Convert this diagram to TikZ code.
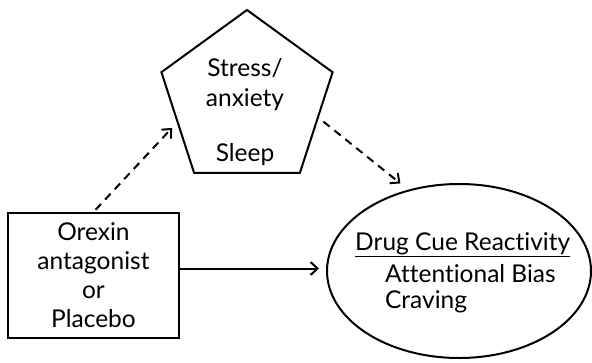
\documentclass[tikz,border=0pt]{standalone}
\usepackage{fontspec}
\setmainfont{Lato}[Ligatures=NoCommon]
\usepackage{tikz}
\usetikzlibrary{shapes.geometric, arrows.meta}

\begin{document}
\begin{tikzpicture}[
    x=1pt, y=-1pt,
    font=\fontsize{24.5}{29}\selectfont,
    box/.style={rectangle, draw=black, line width=2pt, minimum width=171pt, minimum height=125pt, align=center, inner sep=0pt},
    pent/.style={regular polygon, regular polygon sides=5, draw=black, line width=2pt, minimum size=180pt, inner sep=0pt},
    oval/.style={ellipse, draw=black, line width=2pt, minimum width=264pt, minimum height=174pt, inner sep=0pt},
    line/.style={draw, line width=2pt, -{Straight Barb[length=7pt, width=13pt, line width=2pt]}},
    dashline/.style={line, dash pattern=on 8pt off 6pt}
    ]
    \useasboundingbox (0,0) rectangle (592,362);

    % Nodes
    \node (drug) [box] at (93.5,275.5) {Orexin\\antagonist\\or\\Placebo};
    \node (stress) [pent] at (247,100) {};
    \node (stresstext) [align=center, font=\fontsize{24.5}{30}\selectfont] at (245,85) {Stress/\\anxiety};
    \node (sleep) at (245,155) {Sleep};
    \node (cue) [oval] at (459,271) {};
    \node (cuetext) [align=left, anchor=west, inner sep=0pt, font=\fontsize{24.5}{26}\selectfont] at (355,273) {\underline{Drug Cue Reactivity}\\[6pt]\hspace*{30pt}Attentional Bias\\\hspace*{30pt}Craving};

    % Arrows
    \draw [dashline, shorten >=7pt, shorten <=3pt] (drug.north) -- (stress.198);
    \draw [dashline, shorten <=6pt, shorten >=10pt] (stress.-14) -- (cue.122);
    \draw [line, shorten >=7pt] ([yshift=7pt]drug.east) -- ([yshift=7pt]drug.east -| cue.west);
\end{tikzpicture}
\end{document}
